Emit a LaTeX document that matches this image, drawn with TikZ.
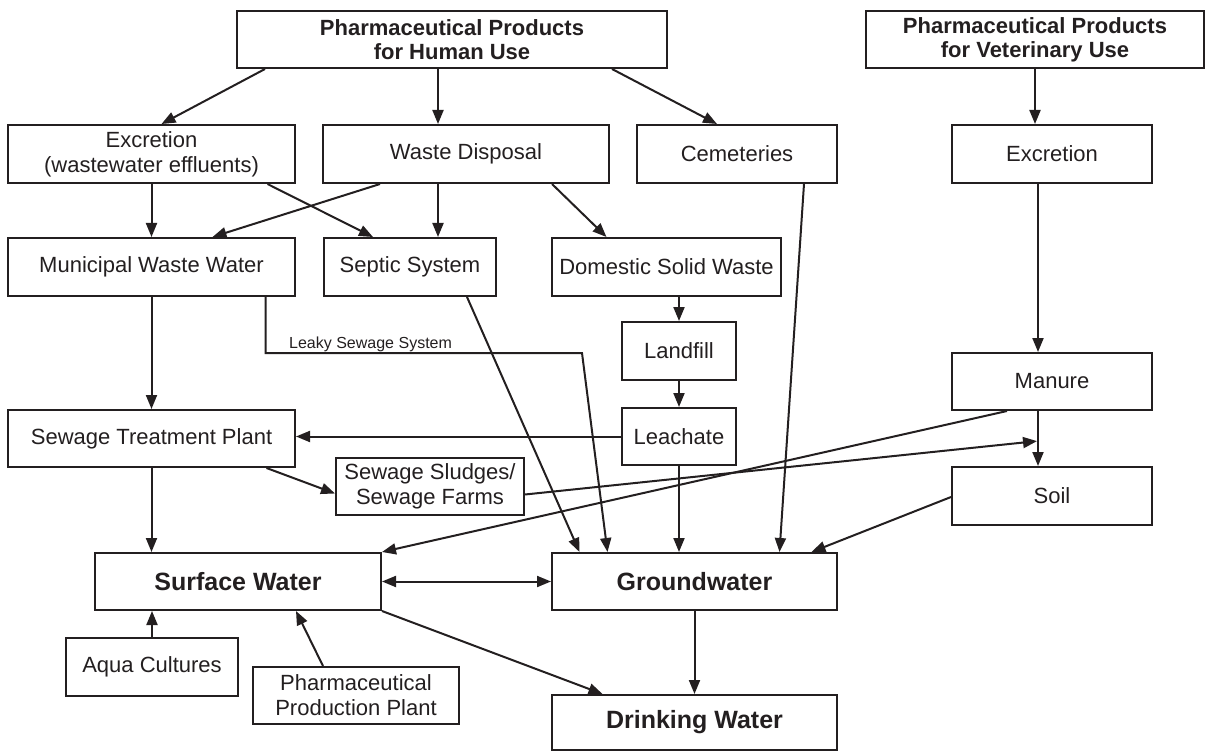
\documentclass[tikz,border=0pt]{standalone}
\usepackage{fontspec}
\setmainfont{Liberation Sans}
\usetikzlibrary{arrows.meta}

\definecolor{ink}{RGB}{35,31,32}

\begin{document}
\begin{tikzpicture}[x=1pt,y=-1pt,
  >={Triangle[length=14pt,width=11pt]},
  box/.style={draw=ink,line width=2pt,inner sep=0pt,align=center,text=ink,
    font=\fontsize{22}{25}\selectfont},
  title/.style={box,font=\fontsize{22}{24}\selectfont\bfseries},
  water/.style={box,font=\fontsize{25}{28}\selectfont\bfseries},
  arr/.style={draw=ink,line width=2pt,->}]
\useasboundingbox (0,0) rectangle (1207,751);

% sources
\node[title,minimum width=430pt,minimum height=57pt] (human) at (452,39.5) {Pharmaceutical Products\\for Human Use};
\node[title,minimum width=338pt,minimum height=57pt] (vet) at (1035,39.5) {Pharmaceutical Products\\for Veterinary Use};

% first level
\node[box,minimum width=287pt,minimum height=58pt] (exh) at (151.5,154) {Excretion\\(wastewater effluents)};
\node[box,minimum width=286pt,minimum height=58pt] (wdisp) at (466,154) {Waste Disposal};
\node[box,minimum width=200pt,minimum height=58pt] (cem) at (737,154) {Cemeteries};
\node[box,minimum width=200pt,minimum height=58pt] (exv) at (1052,154) {Excretion};

% second level
\node[box,minimum width=287pt,minimum height=58pt] (muni) at (151.5,267) {Municipal Waste Water};
\node[box,minimum width=172pt,minimum height=58pt] (septic) at (410,267) {Septic System};
\node[box,minimum width=229pt,minimum height=58pt] (domestic) at (666.5,267) {Domestic Solid Waste};
\node[box,minimum width=114pt,minimum height=58pt] (landfill) at (679,351) {Landfill};
\node[box,minimum width=114pt,minimum height=57pt] (leach) at (679,436.5) {Leachate};
\node[box,minimum width=200pt,minimum height=57pt] (manure) at (1052,381.5) {Manure};
\node[box,minimum width=287pt,minimum height=57pt] (stp) at (151.5,438.5) {Sewage Treatment Plant};
\node[box,minimum width=188pt,minimum height=57pt] (sludge) at (430,486.5) {Sewage Sludges/\\Sewage Farms};
\node[box,minimum width=200pt,minimum height=58pt] (soil) at (1052,496) {Soil};

% waters
\node[water,minimum width=286pt,minimum height=57pt] (surf) at (238,581.5) {Surface Water};
\node[water,minimum width=285pt,minimum height=57pt] (ground) at (694.5,581.5) {Groundwater};
\node[water,minimum width=285pt,minimum height=55pt] (drink) at (694.5,722.5) {Drinking Water};
\node[box,minimum width=172pt,minimum height=58pt] (aqua) at (152,667) {Aqua Cultures};
\node[box,minimum width=206pt,minimum height=57pt] (pplant) at (356,695.5) {Pharmaceutical\\Production Plant};

\coordinate (leakbend) at (582,353);
\coordinate (mix) at ([xshift=-14pt,yshift=-30pt]manure.south);
\node[anchor=base west,inner sep=0pt,text=ink,font=\fontsize{16}{18}\selectfont] (leaky) at (289,348) {Leaky Sewage System};

% human use
\draw[arr] ([xshift=29pt]human.south west) -- ([xshift=10pt]exh.north);
\draw[arr] ([xshift=-14pt]human.south) -- ([xshift=-14pt]human.south |- wdisp.north);
\draw[arr] ([xshift=160pt]human.south) -- ([xshift=-20pt]cem.north);
\draw[arr] (exh.south) -- (muni.north);
\draw[arr] ([xshift=116pt]exh.south) -- ([xshift=-37pt]septic.north);
\draw[arr] ([xshift=-86pt]wdisp.south) -- ([xshift=61pt]muni.north);
\draw[arr] ([xshift=-28pt]wdisp.south) -- ([xshift=-28pt]wdisp.south |- septic.north);
\draw[arr] ([xshift=86pt]wdisp.south) -- ([xshift=-60pt]domestic.north);
\draw[arr] ([xshift=67pt]cem.south) -- ([xshift=85pt]ground.north);
\draw[arr] (muni.south) -- (stp.north);
\draw[arr] ([xshift=114pt]muni.south) |- (leakbend) -- ([xshift=-87pt]ground.north);
\draw[arr] ([xshift=57pt]septic.south) -- ([xshift=-115pt]ground.north);
\draw[arr] (landfill.north |- domestic.south) -- (landfill.north);
\draw[arr] (landfill.south) -- (leach.north);
\draw[arr] (leach.west) -- (stp.east |- leach.west);
\draw[arr] (leach.south) -- (leach.south |- ground.north);
\draw[arr] ([xshift=115pt]stp.south) -- ([yshift=-7pt]sludge.west);
\draw[arr] (stp.south) -- (stp.south |- surf.north);

% veterinary use
\draw[arr] (vet.south) -- (vet.south |- exv.north);
\draw[arr] ([xshift=-14pt]exv.south) -- ([xshift=-14pt]exv.south |- manure.north);
\draw[arr] ([xshift=-14pt]manure.south) -- ([xshift=-14pt]manure.south |- soil.north);
\draw[arr] ([xshift=-45pt]manure.south) -- (surf.north east);
\draw[arr,shorten >=1pt] ([yshift=-8pt]sludge.east) -- (mix);
\draw[arr] ([yshift=-1pt]soil.west) -- ([xshift=117pt]ground.north);

% waters
\draw[arr,<->] (surf.east) -- (ground.west);
\draw[arr] (surf.south east) -- ([xshift=-92pt]drink.north);
\draw[arr] (ground.south) -- (drink.north);
\draw[arr] (aqua.north) -- (aqua.north |- surf.south);
\draw[arr] ([xshift=-33pt]pplant.north) -- ([xshift=58pt]surf.south);
\end{tikzpicture}
\end{document}
